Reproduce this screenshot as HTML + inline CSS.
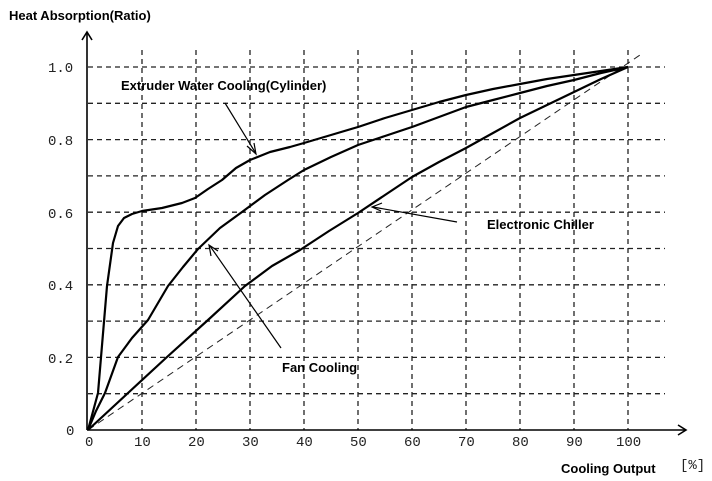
<!DOCTYPE html>
<html><head><style>
body{margin:0;background:#fff}
svg{display:block}
.t{font-family:"Liberation Mono",monospace;font-size:14px;fill:#222}
.l{font-family:"Liberation Sans",sans-serif;font-weight:bold;font-size:13px;fill:#000}
</style></head><body>
<svg width="712" height="481" viewBox="0 0 712 481">
<g stroke="#222" stroke-width="1.3" stroke-dasharray="5,4" fill="none">
<line x1="88" y1="67" x2="665" y2="67"/>
<line x1="88" y1="103.3" x2="665" y2="103.3"/>
<line x1="88" y1="139.6" x2="665" y2="139.6"/>
<line x1="88" y1="175.9" x2="665" y2="175.9"/>
<line x1="88" y1="212.2" x2="665" y2="212.2"/>
<line x1="88" y1="248.5" x2="665" y2="248.5"/>
<line x1="88" y1="284.8" x2="665" y2="284.8"/>
<line x1="88" y1="321.1" x2="665" y2="321.1"/>
<line x1="88" y1="357.4" x2="665" y2="357.4"/>
<line x1="88" y1="393.7" x2="665" y2="393.7"/>
<line x1="142" y1="50" x2="142" y2="430"/>
<line x1="196" y1="50" x2="196" y2="430"/>
<line x1="250" y1="50" x2="250" y2="430"/>
<line x1="304" y1="50" x2="304" y2="430"/>
<line x1="358" y1="50" x2="358" y2="430"/>
<line x1="412" y1="50" x2="412" y2="430"/>
<line x1="466" y1="50" x2="466" y2="430"/>
<line x1="520" y1="50" x2="520" y2="430"/>
<line x1="574" y1="50" x2="574" y2="430"/>
<line x1="628" y1="50" x2="628" y2="430"/>
<line x1="88" y1="430" x2="640" y2="55" stroke-dasharray="7,5" stroke-width="1"/>
</g>
<g stroke="#000" stroke-width="1.6" fill="none">
<line x1="87" y1="430" x2="87" y2="33"/>
<polyline points="82,40 87,32 92,40"/>
<line x1="87" y1="430" x2="686" y2="430"/>
<polyline points="678,425 686,430 678,435"/>
</g>
<g stroke="#000" stroke-width="2.2" fill="none" stroke-linejoin="round">
<polyline points="88,430 98,393 107,286 113,243 118,226 124,218 132,214 142,211 162,208 182,203 195,198 208,189 222,180 236,168 250,160 270,152 290,147 304,143 331,135 358,127 385,118 412,110 439,102 466,95 493,89 520,84 547,79 574,75 601,71 628,67"/>
<polyline points="88,430 96,411 105,393 118,357 132,338 148,320 168,286 183,267 198,249 220,228 242,212 265,195 288,180 304,170 331,157 358,145 385,136 412,127 439,117 466,107 493,100 520,93 547,86 574,80 601,73 628,67"/>
<polyline points="88,430 128,393 167,357 208,320 245,286 272,266 300,250 329,231 358,213 385,195 412,177 439,162 466,148 493,133 520,118 547,105 574,92 601,79 628,67"/>
</g>
<g stroke="#000" stroke-width="1.2" fill="none">
<line x1="225" y1="103" x2="255" y2="152"/>
<polyline points="247,146 256,154 254,143"/>
<line x1="457" y1="222" x2="373" y2="207"/>
<polyline points="382,203 372,207 381,211"/>
<line x1="281" y1="348" x2="210" y2="246"/>
<polyline points="211,256 209,245 218,251"/>
</g>
<g class="t">
<text x="48" y="72">1.0</text>
<text x="48" y="145">0.8</text>
<text x="48" y="218">0.6</text>
<text x="48" y="290">0.4</text>
<text x="48" y="363">0.2</text>
<text x="66" y="435">0</text>
<text x="85" y="446">0</text>
<text x="134" y="446">10</text>
<text x="188" y="446">20</text>
<text x="242" y="446">30</text>
<text x="296" y="446">40</text>
<text x="350" y="446">50</text>
<text x="404" y="446">60</text>
<text x="458" y="446">70</text>
<text x="512" y="446">80</text>
<text x="566" y="446">90</text>
<text x="616" y="446">100</text>
<text x="680" y="469">[%]</text>
</g>
<g class="l">
<text x="9" y="20">Heat Absorption(Ratio)</text>
<text x="121" y="90">Extruder Water Cooling(Cylinder)</text>
<text x="487" y="229">Electronic Chiller</text>
<text x="282" y="372">Fan Cooling</text>
<text x="561" y="473">Cooling Output</text>
</g>
</svg>
</body></html>
